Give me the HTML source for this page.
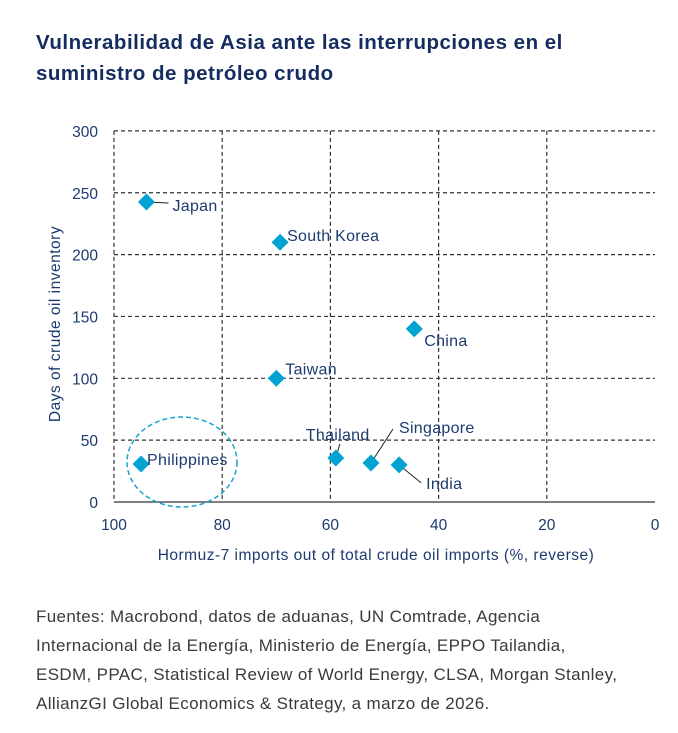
<!DOCTYPE html>
<html><head><meta charset="utf-8"><style>
body{margin:0;background:#fff;width:678px;height:733px;overflow:hidden;font-family:"Liberation Sans",sans-serif}
h1{position:absolute;left:36px;top:27px;margin:0;font-size:20.5px;line-height:31px;font-weight:bold;color:#142d5e;letter-spacing:0.5px}
.src{position:absolute;left:36px;top:602px;font-size:17px;line-height:29px;color:#3a3a3a;letter-spacing:0.35px}
</style></head><body>
<h1>Vulnerabilidad de Asia ante las interrupciones en el<br>suministro de petróleo crudo</h1>
<svg id="c" width="678" height="733" style="position:absolute;left:0;top:0"></svg>
<div class="src">Fuentes: Macrobond, datos de aduanas, UN Comtrade, Agencia<br>Internacional de la Energía, Ministerio de Energía, EPPO Tailandia,<br>ESDM, PPAC, Statistical Review of World Energy, CLSA, Morgan Stanley,<br>AllianzGI Global Economics &amp; Strategy, a marzo de 2026.</div>
<script>
const countries=["Japan","South Korea","China","Taiwan","Philippines","Thailand","Singapore","India"];
const importsPct=[94,69.3,44.5,70,95,59,52.5,47.3];
const inventoryDays=[242.5,210,140,100,30.7,35.6,31.5,30];
const xTicks=[100,80,60,40,20,0];
const yTicks=[0,50,100,150,200,250,300];
const NS="http://www.w3.org/2000/svg",svg=document.getElementById('c');
const X=v=>114+(100-v)*5.41, Y=v=>502-v*1.237;
function el(t,a,txt){const e=document.createElementNS(NS,t);for(const k in a)e.setAttribute(k,a[k]);if(txt!=null)e.textContent=txt;svg.appendChild(e);return e;}
const navy="#1c3a6e";
yTicks.forEach(v=>{
 if(v>0){const l=el('line',{x1:114,x2:655,y1:Y(v),y2:Y(v),stroke:'#333','stroke-width':1.2,'stroke-dasharray':'4,3'});
 
 }
 const t=el('text',{x:98,y:Y(v)+6,'text-anchor':'end','font-size':15.5,fill:navy},v);
 
 
});
xTicks.forEach(v=>{
 if(v>0){const l=el('line',{x1:X(v),x2:X(v),y1:Y(300),y2:502,stroke:'#333','stroke-width':1.2,'stroke-dasharray':'4,3'});
 
 }
 const t=el('text',{x:X(v),y:530,'text-anchor':'middle','font-size':15.5,fill:navy},v);
 
 
});
const ax=el('line',{x1:114,x2:655,y1:502,y2:502,stroke:'#555','stroke-width':1.5});


const xt=el('text',{x:376,y:560,'text-anchor':'middle','font-size':15.5,'letter-spacing':0.5,fill:navy},'Hormuz-7 imports out of total crude oil imports (%, reverse)');


const yt=el('text',{x:0,y:0,'text-anchor':'middle','font-size':15.5,'letter-spacing':0.5,fill:navy,transform:'translate(60,324) rotate(-90)'},'Days of crude oil inventory');


const circ=el('ellipse',{cx:182,cy:462,rx:55,ry:45,fill:'none',stroke:'#1aa3d0','stroke-width':1.5,'stroke-dasharray':'5,3'});


const lab=[[26,9,'start',0,0,22,1],[7,-1,'start'],[10,17,'start'],[9,-4,'start'],[6,1,'start'],[-30,-18,'start',0,0,4,-14],[28,-30,'start',0,0,22,-34],[27,24,'start',0,0,22,18]];
countries.forEach((c,i)=>{
 const px=X(importsPct[i]),py=Y(inventoryDays[i]);
 const L=lab[i];
 if(L.length>3){const ll=el('line',{x1:px,y1:py,x2:px+L[5],y2:py+L[6],stroke:'#222','stroke-width':1});
 
 }
 const m=el('rect',{x:px-6,y:py-6,width:12,height:12,fill:'#00a3d1',transform:`rotate(45 ${px} ${py})`});
 
 
 const t=el('text',{x:px+L[0],y:py+L[1],'text-anchor':L[2],'font-size':16,'letter-spacing':0.3,fill:navy},c);
 
 
});
</script>
</body></html>
